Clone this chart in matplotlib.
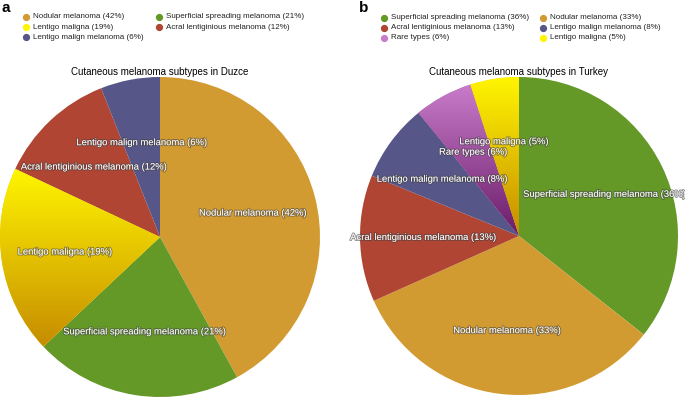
import matplotlib
matplotlib.use("Agg")
import matplotlib.pyplot as plt
import matplotlib.patheffects as pe
import numpy as np

plt.rcParams['font.family'] = ['Liberation Sans', 'DejaVu Sans']

# panel a - Duzce
duzce_labels = ["Nodular melanoma", "Superficial spreading melanoma", "Lentigo maligna",
                "Acral lentiginious melanoma", "Lentigo malign melanoma"]
duzce_pct = [42, 21, 19, 12, 6]

# panel b - Turkey
turkey_labels = ["Superficial spreading melanoma", "Nodular melanoma", "Acral lentiginious melanoma",
                 "Lentigo malign melanoma", "Rare types", "Lentigo maligna"]
turkey_pct = [36, 33, 13, 8, 6, 5]

# colours per subtype (flat colour, or top/bottom of gradient)
colors = {
    "Nodular melanoma": "#d29b31",
    "Superficial spreading melanoma": "#649827",
    "Lentigo maligna": "#eed800",
    "Acral lentiginious melanoma": "#b04534",
    "Lentigo malign melanoma": "#575688",
    "Rare types": "#a04ca4",
}
gradients = {
    "Lentigo maligna": ("#fff500", "#c68c00"),
    "Rare types": ("#c97cc9", "#6a1c6a"),
}

W, H = 685, 398
fig = plt.figure(figsize=(W / 100, H / 100), dpi=100)


def pix_axes(x0, y0, x1, y1):
    # axes from pixel box (top-left origin)
    return fig.add_axes([x0 / W, 1 - y1 / H, (x1 - x0) / W, (y1 - y0) / H])


def draw_pie(ax, labels, pct):
    wedges, _ = ax.pie(pct, colors=[colors[l] for l in labels], startangle=90,
                       counterclock=False, radius=1)
    ax.set_xlim(-1, 1)
    ax.set_ylim(-1, 1)
    for w, lab, p in zip(wedges, labels, pct):
        if lab in gradients:
            top, bot = gradients[lab]
            c1 = np.array(matplotlib.colors.to_rgb(top))
            c2 = np.array(matplotlib.colors.to_rgb(bot))
            ext = w.get_path().get_extents(w.get_patch_transform())
            t = np.linspace(0, 1, 256)[:, None]
            img = (c1 * (1 - t) + c2 * t)[:, None, :]
            im = ax.imshow(img, extent=[ext.x0, ext.x1, ext.y0, ext.y1],
                           aspect='auto', zorder=w.get_zorder() + 0.1)
            im.set_clip_path(w)
        mid = np.deg2rad((w.theta1 + w.theta2) / 2)
        ax.text(0.6 * np.cos(mid), 0.6 * np.sin(mid), "%s (%d%%)" % (lab, p),
                ha='center', va='center', color='white', fontsize=6.8, zorder=5,
                path_effects=[pe.withStroke(linewidth=1.4, foreground=(0.25, 0.25, 0.25, 0.55))])


axa = pix_axes(0, 77, 320, 397)
draw_pie(axa, duzce_labels, duzce_pct)
axb = pix_axes(360, 77, 678, 395)
draw_pie(axb, turkey_labels, turkey_pct)

# overlay for legends, titles, panel letters
ov = fig.add_axes([0, 0, 1, 1], zorder=10)
ov.set_xlim(0, W)
ov.set_ylim(H, 0)
ov.axis('off')


def legend(labels, pct, x_cols, y_rows):
    for i, (lab, p) in enumerate(zip(labels, pct)):
        x = x_cols[i % 2]
        y = y_rows[i // 2]
        ov.plot(x, y, 'o', ms=4.2, color=colors[lab] if lab not in gradients else gradients[lab][0])
        ov.text(x + 7, y, "%s (%d%%)" % (lab, p), fontsize=5.8, color='#222222',
                ha='left', va='center')


legend(duzce_labels, duzce_pct, [25.7, 159], [17, 27.3, 37.3])
legend(turkey_labels, turkey_pct, [384.5, 543], [17.5, 27.8, 37.5])

ov.text(160, 72, "Cutaneous melanoma subtypes in Duzce", fontsize=7, ha='center', va='center')
ov.text(519, 72, "Cutaneous melanoma subtypes in Turkey", fontsize=7, ha='center', va='center')
ov.text(1, 8, "a", fontsize=11, fontweight='bold', ha='left', va='center')
ov.text(359, 8, "b", fontsize=11, fontweight='bold', ha='left', va='center')

fig.savefig("out.png", dpi=100)
